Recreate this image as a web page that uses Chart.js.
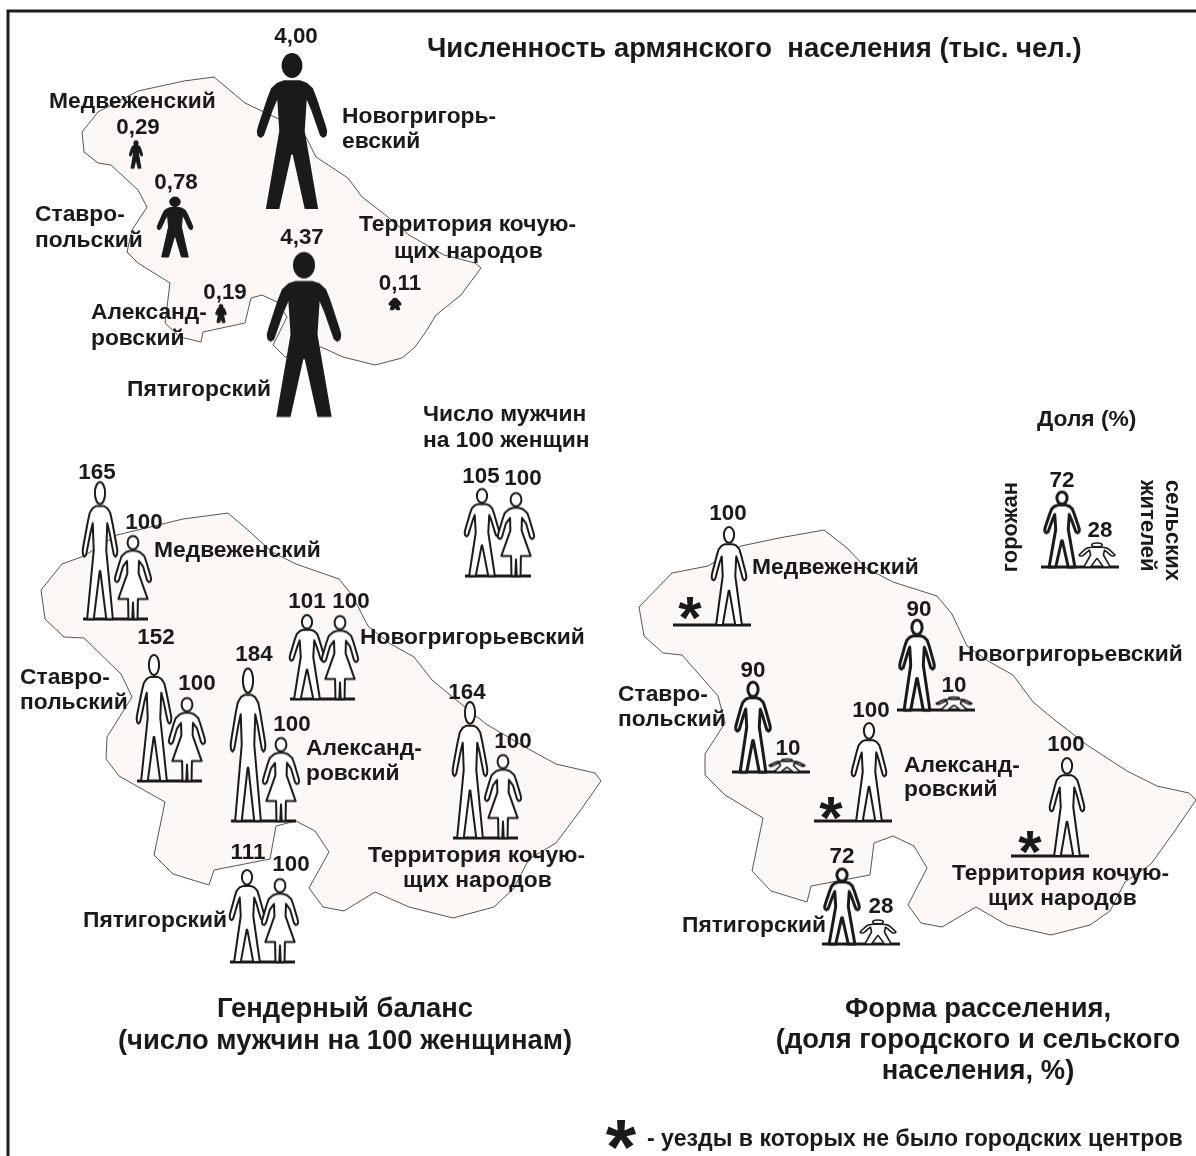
<!DOCTYPE html>
<html lang="ru">
<head>
<meta charset="utf-8">
<title>Численность армянского населения</title>
<script src="https://cdn.jsdelivr.net/npm/chart.js@4/dist/chart.umd.min.js"></script>
<style>
  html, body { margin: 0; padding: 0; background: #fff; }
  canvas { display: block; }
</style>
</head>
<body>
<canvas id="mapa" width="1196" height="1156"></canvas>
<script>
// Контуры губернии, координаты осей совпадают с пикселями картинки
const contourTop = [[214,77],[245,103],[281,120],[306,137],[316,157],[348,178],[362,197],[383,213],[409,235],[444,255],[475,263],[481,268],[461,295],[436,315],[427,330],[415,347],[402,358],[375,365],[343,357],[321,347],[285,357],[273,345],[287,317],[277,302],[262,295],[251,298],[245,323],[203,332],[201,342],[180,337],[165,323],[170,283],[138,263],[127,252],[132,230],[147,207],[138,190],[111,165],[98,163],[84,152],[82,132],[98,112],[138,91],[184,81]]
const contourGender = [[228,513],[249,531],[272,552],[296,564],[339,579],[352,595],[368,626],[389,643],[414,657],[432,680],[455,699],[486,724],[525,747],[556,764],[595,773],[601,781],[580,811],[556,843],[529,859],[514,888],[494,907],[453,918],[409,907],[375,892],[344,911],[323,907],[309,888],[329,852],[315,831],[296,821],[276,826],[270,859],[214,870],[209,885],[173,874],[154,855],[165,802],[119,776],[106,759],[107,737],[132,697],[121,674],[84,638],[64,637],[45,619],[41,590],[62,564],[84,556],[117,535],[183,519]]
const contourSettle = [[824,530],[847,548],[866,568],[893,582],[937,596],[952,614],[967,646],[988,661],[1013,675],[1033,702],[1056,721],[1087,745],[1127,771],[1157,786],[1189,793],[1196,800],[1174,832],[1151,864],[1125,882],[1110,911],[1090,925],[1051,935],[1007,925],[976,907],[942,927],[921,923],[908,905],[927,868],[914,846],[893,836],[874,843],[870,875],[811,886],[807,902],[771,891],[752,871],[763,818],[725,795],[705,775],[705,754],[725,723],[718,696],[682,655],[663,653],[644,636],[639,607],[672,573],[708,566],[741,546],[779,538]]
const frameLine = [[8,1156],[8,11],[1196,11]]

// Численность, тыс. чел.
const popValues = [4.00, 4.37, 0.78, 0.29, 0.19, 0.11]
// центр, низ, ширина и высота фигуры, обводка мелких фигур
const popX = [292, 304, 175, 136, 221, 395]
const popBase = [209, 417, 257, 168, 322, 309]
const popW = [67, 71, 34, 12, 9, 10]
const popH = [156, 165, 60, 27, 17, 10]
const popStroke = [0, 0, 1, 1.5, 2, 2.5]

// Мужчин на 100 женщин: легенда, Медв., Ставр., Алекс., Новогр., Терр., Пятиг.
const menValues = [105, 165, 152, 184, 101, 164, 111]
const womenValues = [100, 100, 100, 100, 100, 100, 100]
const menX = [482, 100, 154, 248, 307, 470, 247]
const womenX = [516, 133, 187, 281, 340, 503, 280]
const genderBase = [576, 619, 781, 821, 699, 838, 962]

// Доля горожан и сельских жителей, %: легенда, Медв., Новогр., Ставр., Алекс., Терр., Пятиг.
const urbanValues = [72, 100, 90, 90, 100, 100, 72]
const ruralValues = [28, 0, 10, 10, 0, 0, 28]
const urbanX = [1062, 729, 917, 753, 869, 1067, 842]
const ruralX = [1097, 0, 954, 787, 0, 0, 878]
const settleBase = [567, 625, 710, 772, 821, 856, 944]
const settleLeft = [1041, 673, 897, 732, 814, 1011, 822]

// Подписи: текст, x, y, выравнивание, размер
const districtLabels = [
  ["Численность армянского  населения (тыс. чел.)", 427, 49, "left", 27.5],
  ["Медвеженский", 49, 102, "left"], ["Новогригорь-", 342, 117, "left"], ["евский", 342, 142, "left"],
  ["Ставро-", 35, 215, "left"], ["польский", 35, 241, "left"],
  ["Территория кочую-", 359, 225, "left"], ["щих народов", 394, 252, "left"],
  ["Александ-", 91, 313, "left"], ["ровский", 91, 339, "left"], ["Пятигорский", 127, 390, "left"],
  ["Число мужчин", 423, 415, "left"], ["на 100 женщин", 423, 441, "left"],
  ["Медвеженский", 154, 551, "left"], ["Новогригорьевский", 360, 638, "left"],
  ["Ставро-", 20, 678, "left"], ["польский", 20, 703, "left"],
  ["Александ-", 306, 749, "left"], ["ровский", 306, 774, "left"],
  ["Территория кочую-", 368, 856, "left"], ["щих народов", 403, 881, "left"], ["Пятигорский", 83, 921, "left"],
  ["Медвеженский", 752, 568, "left"], ["Новогригорьевский", 958, 655, "left"],
  ["Ставро-", 618, 695, "left"], ["польский", 618, 720, "left"],
  ["Александ-", 904, 766, "left"], ["ровский", 904, 790, "left"],
  ["Территория кочую-", 952, 874, "left"], ["щих народов", 988, 899, "left"], ["Пятигорский", 682, 926, "left"],
  ["Доля (%)", 1037, 420, "left"],
  ["Гендерный баланс", 345, 1009, "center", 27.4], ["(число мужчин на 100 женщинам)", 345, 1041, "center", 27.4],
  ["Форма расселения,", 978, 1009, "center", 27.4], ["(доля городского и сельского", 978, 1040, "center", 27.4], ["населения, %)", 978, 1071, "center", 27.4],
  ["- уезды в которых не было городских центров", 647, 1140, "left", 23.1],
]
const valueLabels = [
  ["4,00", 296, 37], ["4,37", 302, 238], ["0,78", 176, 183], ["0,29", 138, 128], ["0,19", 225, 293], ["0,11", 400, 284],
  ["105", 481, 477], ["100", 523, 479], ["165", 97, 473], ["100", 144, 523], ["152", 156, 638], ["100", 197, 684],
  ["184", 254, 655], ["100", 292, 725], ["101", 307, 602], ["100", 351, 602], ["164", 467, 693], ["100", 513, 742],
  ["111", 248, 853], ["100", 291, 865],
  ["72", 1062, 481], ["28", 1100, 531], ["100", 728, 514], ["90", 919, 610], ["10", 954, 686], ["90", 753, 671],
  ["10", 788, 749], ["100", 871, 711], ["100", 1066, 745], ["72", 842, 857], ["28", 881, 907],
]
const rotatedLabels = [["горожан", 1011, 527, -90, "center"], ["сельских", 1172, 480, 90, "left"], ["жителей", 1147, 480, 90, "left"]]
const starLabels = [[690, 613, 60], [831, 813, 60], [1030, 847, 60], [621, 1141, 78]]

const INK = "#1a1a1a"
const MAP_FILL = "#fbf8f5"

// половина фигуры, x от центра в долях ширины, y от макушки в долях высоты
const manShape = [[0,.175],[.12,.175],[.22,.19],[.31,.225],[.37,.29],[.5,.46],[.525,.5],[.515,.53],[.47,.545],[.42,.53],[.37,.47],[.29,.37],[.22,.3],[.19,.5],[.39,1],[.19,1],[.01,.65]]
const womanShape = [[0,.175],[.1,.18],[.2,.195],[.32,.24],[.38,.31],[.5,.48],[.52,.52],[.5,.545],[.45,.555],[.4,.53],[.29,.37],[.17,.3],[.16,.45],[.42,.76],[.14,.76],[.13,1],[.02,1],[0,.8]]

function dibujarFigura(shape, w, h, filled, lw) {
  const pad = 4
  const cv = document.createElement("canvas")
  cv.width = Math.round(w + pad * 2 + 1) & ~1
  cv.height = Math.round(h + pad * 2 + 1) & ~1
  const c = cv.getContext("2d")
  const cx = cv.width / 2
  const top = cv.height / 2 - h / 2
  c.lineJoin = "round"
  c.strokeStyle = INK
  c.fillStyle = filled ? INK : "#fff"
  c.beginPath()
  shape.forEach(([x, y], i) => {
    if (i) c.lineTo(cx + x * w, top + y * h)
    else c.moveTo(cx + x * w, top + y * h)
  })
  for (let i = shape.length - 1; i >= 0; i--) c.lineTo(cx - shape[i][0] * w, top + shape[i][1] * h)
  c.closePath()
  c.fill()
  if (lw > 0) {
    c.lineWidth = lw
    c.stroke()
  }
  c.beginPath()
  c.ellipse(cx, top + 0.08 * h, 0.155 * w, 0.08 * h, 0, 0, Math.PI * 2)
  c.fill()
  if (lw > 0) c.stroke()
  return cv
}

function figurasDataset(figuras) {
  return {
    type: "scatter",
    order: 1,
    data: figuras.map((f) => ({ x: f.x, y: f.base - f.h / 2 })),
    pointStyle: figuras.map((f) => dibujarFigura(f.shape, f.w, f.h, f.filled, f.lw)),
    pointRadius: 10,
    clip: false,
  }
}

function lineaDataset(points, width, order) {
  return {
    type: "line",
    order: order,
    data: points.map(([x, y]) => ({ x, y })),
    borderColor: INK,
    borderWidth: width,
    pointRadius: 0,
    tension: 0,
    clip: false,
  }
}

function mapaDataset(points) {
  const ds = lineaDataset(points.concat([points[0]]), 1, 5)
  ds.borderColor = "#555"
  ds.backgroundColor = MAP_FILL
  ds.fill = "shape"
  return ds
}

const popFigures = popValues.map((v, i) => ({ shape: manShape, x: popX[i], base: popBase[i], w: popW[i], h: popH[i], filled: true, lw: popStroke[i] }))

const genderFigures = []
menValues.forEach((v, i) => {
  genderFigures.push({ shape: manShape, x: menX[i], base: genderBase[i], w: 33, h: v * 0.83, filled: false, lw: 2 })
  genderFigures.push({ shape: womanShape, x: womenX[i], base: genderBase[i], w: 35, h: womenValues[i] * 0.83, filled: false, lw: 2 })
})

const settleFigures = []
urbanValues.forEach((v, i) => {
  settleFigures.push({ shape: manShape, x: urbanX[i], base: settleBase[i], w: 33, h: 16 + v * 0.82, filled: false, lw: v < 100 ? 3 : 2 })
  if (ruralValues[i]) {
    settleFigures.push({ shape: manShape, x: ruralX[i], base: settleBase[i], w: 34, h: 7 + ruralValues[i] * 0.61, filled: false, lw: 1.6 })
  }
})

const genderLines = menX.map((x, i) => [[x - 17, genderBase[i]], [womenX[i] + 15, genderBase[i]]])
const settleLines = settleLeft.map((x, i) => [[x, settleBase[i]], [x + 78, settleBase[i]]])

// Подписи рисуем поверх всего, через те же оси
const subtitulos = {
  id: "subtitulos",
  afterDraw(chart) {
    const { ctx, scales } = chart
    const px = (v) => scales.x.getPixelForValue(v)
    const py = (v) => scales.y.getPixelForValue(v)
    ctx.save()
    ctx.fillStyle = INK
    ctx.textBaseline = "middle"
    districtLabels.forEach(([text, x, y, align, size]) => {
      ctx.font = `bold ${size || 22.8}px "Liberation Sans"`
      ctx.textAlign = align
      ctx.fillText(text, px(x), py(y))
    })
    ctx.font = 'bold 22.4px "Liberation Sans"'
    ctx.textAlign = "center"
    valueLabels.forEach(([text, x, y]) => ctx.fillText(text, px(x), py(y)))
    ctx.font = 'bold 22px "Liberation Sans"'
    rotatedLabels.forEach(([text, x, y, deg, align]) => {
      ctx.save()
      ctx.translate(px(x), py(y))
      ctx.rotate((deg * Math.PI) / 180)
      ctx.textAlign = align
      ctx.fillText(text, 0, 0)
      ctx.restore()
    })
    ctx.textAlign = "center"
    ctx.textBaseline = "alphabetic"
    starLabels.forEach(([x, y, size]) => {
      ctx.font = `bold ${size}px "Liberation Sans"`
      ctx.fillText("*", px(x), py(y) + size * 0.42)
    })
    ctx.restore()
  },
}

new Chart(document.getElementById("mapa"), {
  type: "scatter",
  data: {
    datasets: [
      mapaDataset(contourTop),
      mapaDataset(contourGender),
      mapaDataset(contourSettle),
      lineaDataset(frameLine, 3, 4),
      ...genderLines.map((l) => lineaDataset(l, 3, 2)),
      ...settleLines.map((l) => lineaDataset(l, 3, 2)),
      figurasDataset(popFigures),
      figurasDataset(genderFigures),
      figurasDataset(settleFigures),
    ],
  },
  options: {
    responsive: false,
    animation: false,
    layout: { padding: 0, autoPadding: false },
    scales: {
      x: { type: "linear", min: 0, max: 1196, display: false },
      y: { type: "linear", min: 0, max: 1156, reverse: true, display: false },
    },
    plugins: { legend: { display: false }, tooltip: { enabled: false } },
  },
  plugins: [subtitulos],
})
</script>
</body>
</html>
